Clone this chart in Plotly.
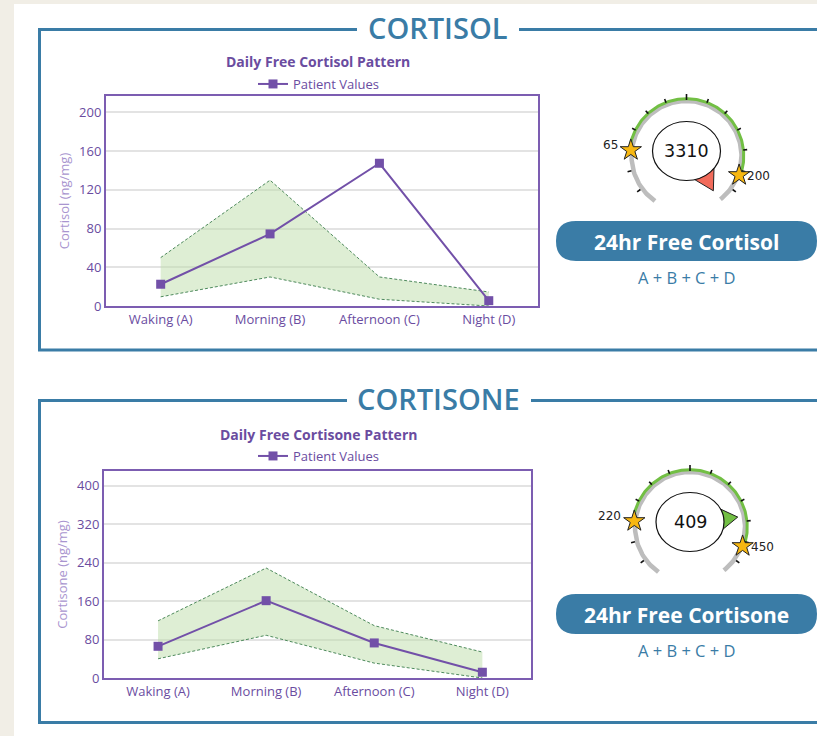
import numpy as np
import plotly.graph_objects as go

W, H = 817, 736

CATEGORIES = ["Waking (A)", "Morning (B)", "Afternoon (C)", "Night (D)"]

CORTISOL_PATIENT = [22.5, 74.5, 147.5, 5.5]
CORTISOL_UPPER = [50, 130, 30, 14.5]
CORTISOL_LOWER = [9.5, 30, 7, 0]
CORTISOL_TICKS = [0, 40, 80, 120, 160, 200]

CORTISONE_PATIENT = [66, 161, 73, 12]
CORTISONE_UPPER = [119, 229, 109, 54]
CORTISONE_LOWER = [40, 89, 31, 0]
CORTISONE_TICKS = [0, 80, 160, 240, 320, 400]

GAUGE_LOW = [65, 220]
GAUGE_HIGH = [200, 450]
GAUGE_VALUE = [3310, 409]

SECTION_TITLES = ["CORTISOL", "CORTISONE"]
CHART_TITLES = ["Daily Free Cortisol Pattern", "Daily Free Cortisone Pattern"]
Y_TITLES = ["Cortisol (ng/mg)", "Cortisone (ng/mg)"]
PILL_LABELS = ["24hr Free Cortisol", "24hr Free Cortisone"]
FORMULA = "A + B + C + D"

BEIGE = "#f1eee6"
BLUE = "#3a7ca6"
PURPLE = "#7250a8"
PURPLE_TXT = "#6a4c9f"
PURPLE_LIGHT = "#a995cf"
GREEN_FILL = "rgba(190, 222, 170, 0.5)"
GREEN_LINE = "#4e8a5c"
GAUGE_GREEN = "#72bf44"
GAUGE_GREY = "#bdbdbd"
STAR = "#f7b711"

A_LOW, A_HIGH = 174.0, -20.0      # angles where the reference range ends sit
ARC_START, ARC_END = 235.0, -52.0


def _px(x, y):
    return x / W, 1 - y / H


def _angle(v, lo, hi):
    f = (np.log(v) - np.log(lo)) / (np.log(hi) - np.log(lo))
    return float(np.clip(A_LOW + f * (A_HIGH - A_LOW), -56, 234))


def _arc(cx, cy, r, a0, a1, n=160):
    t = np.radians(np.linspace(a0, a1, n))
    return cx + r * np.cos(t), cy - r * np.sin(t)


fig = go.Figure()

# ---- frames / page background -------------------------------------------
shapes = [dict(type="rect", xref="x", yref="y", x0=14, x1=W + 5, y0=4, y1=H + 5,
               fillcolor="white", line_width=0, layer="below")]
annotations = []
frames = [(29.5, 350, 357, 519), (400.5, 722.5, 347, 531)]
for i, (top, bottom, gap0, gap1) in enumerate(frames):
    shapes.append(dict(type="path", xref="x", yref="y",
                       path=f"M {gap0},{top} L 39.5,{top} L 39.5,{bottom} L {W + 5},{bottom}",
                       line=dict(color=BLUE, width=3)))
    shapes.append(dict(type="line", xref="x", yref="y", x0=gap1, x1=W + 5,
                       y0=top, y1=top, line=dict(color=BLUE, width=3)))
    annotations.append(dict(xref="x", yref="y", x=438, y=top - 2,
                            text=SECTION_TITLES[i], showarrow=False,
                            font=dict(family="Open Sans", size=29, weight=600,
                                      color=BLUE)))

# ---- pattern charts ------------------------------------------------------
charts = [
    dict(patient=CORTISOL_PATIENT, upper=CORTISOL_UPPER, lower=CORTISOL_LOWER,
         ticks=CORTISOL_TICKS, yrange=[0, 217], box=(106, 538, 96, 306),
         title_y=61, legend_y=84),
    dict(patient=CORTISONE_PATIENT, upper=CORTISONE_UPPER, lower=CORTISONE_LOWER,
         ticks=CORTISONE_TICKS, yrange=[0, 431], box=(104, 531, 471, 678),
         title_y=434, legend_y=456),
]

for i, c in enumerate(charts):
    n = i + 2
    xa, ya = f"x{n}", f"y{n}"
    fig.add_trace(go.Scatter(x=CATEGORIES, y=c["lower"], mode="lines",
                             line=dict(color=GREEN_LINE, width=1, dash="3px,2px"),
                             xaxis=xa, yaxis=ya, showlegend=False, hoverinfo="skip"))
    fig.add_trace(go.Scatter(x=CATEGORIES, y=c["upper"], mode="lines",
                             line=dict(color=GREEN_LINE, width=1, dash="3px,2px"),
                             fill="tonexty", fillcolor=GREEN_FILL,
                             xaxis=xa, yaxis=ya, showlegend=False, hoverinfo="skip"))
    fig.add_trace(go.Scatter(x=CATEGORIES, y=c["patient"], mode="lines+markers",
                             name="Patient Values",
                             line=dict(color=PURPLE, width=2),
                             marker=dict(symbol="square", size=9, color=PURPLE),
                             xaxis=xa, yaxis=ya,
                             legend="legend" if i == 0 else "legend2"))
    x0, x1, y0, y1 = c["box"]
    axis_common = dict(showline=True, mirror=True, linecolor="#7c5db1", linewidth=2,
                       ticks="", tickfont=dict(size=13, color=PURPLE_TXT),
                       fixedrange=True, automargin=False)
    fig.update_layout(**{
        f"xaxis{n}": dict(domain=[x0 / W, x1 / W], anchor=ya, type="category",
                          range=[-0.5, 3.45], showgrid=False, **axis_common),
        f"yaxis{n}": dict(domain=[1 - y1 / H, 1 - y0 / H], anchor=xa,
                          range=c["yrange"], tickvals=c["ticks"],
                          showgrid=True, gridcolor="#e3e3e3", gridwidth=1.5,
                          zeroline=False,
                          title=dict(text=Y_TITLES[i], standoff=7,
                                     font=dict(size=13, color=PURPLE_LIGHT)),
                          **axis_common),
    })
    annotations.append(dict(xref="x", yref="y", x=318, y=c["title_y"],
                            text=f"<b>{CHART_TITLES[i]}</b>", showarrow=False,
                            font=dict(size=14, color=PURPLE_TXT)))
    lx, ly = _px(253, c["legend_y"])
    fig.update_layout(**{("legend" if i == 0 else "legend2"): dict(
        x=lx, y=ly, xanchor="left", yanchor="middle", bgcolor="rgba(0,0,0,0)",
        font=dict(size=13, color=PURPLE_TXT), itemwidth=30)})

# ---- gauges ------------------------------------------------------------------
gauges = [dict(cx=686.5, cy=156, pill=(221, 261)),
          dict(cx=690, cy=527, pill=(594, 634))]
tick_angles = np.arange(216, -37, -21)

for i, g in enumerate(gauges):
    cx, cy = g["cx"], g["cy"]
    lo, hi, val = GAUGE_LOW[i], GAUGE_HIGH[i], GAUGE_VALUE[i]
    ax, ay = _arc(cx, cy, 55, ARC_START, ARC_END)
    fig.add_trace(go.Scatter(x=ax, y=ay, mode="lines",
                             line=dict(color=GAUGE_GREY, width=4.5),
                             showlegend=False, hoverinfo="skip"))
    gx, gy = _arc(cx, cy, 57.3, A_LOW, A_HIGH)
    fig.add_trace(go.Scatter(x=gx, y=gy, mode="lines",
                             line=dict(color=GAUGE_GREEN, width=3),
                             showlegend=False, hoverinfo="skip"))
    tx, ty = [], []
    for a in tick_angles:
        r0, r1 = (56, 62) if a == 90 else (57, 61)
        t = np.radians(a)
        tx += [cx + r0 * np.cos(t), cx + r1 * np.cos(t), None]
        ty += [cy - r0 * np.sin(t), cy - r1 * np.sin(t), None]
    fig.add_trace(go.Scatter(x=tx, y=ty, mode="lines",
                             line=dict(color="#111", width=1.6),
                             showlegend=False, hoverinfo="skip"))

    # reference range stars
    sa = np.radians([_angle(lo, lo, hi), _angle(hi, lo, hi)])
    sx = cx + 56 * np.cos(sa)
    sy = cy - 56 * np.sin(sa)
    fig.add_trace(go.Scatter(x=sx, y=sy, mode="markers",
                             marker=dict(symbol="star", size=16, color=STAR,
                                         line=dict(color="#222", width=1)),
                             showlegend=False, hoverinfo="skip"))
    annotations.append(dict(xref="x", yref="y", x=sx[0] - 11, y=sy[0] - 5,
                            text=str(lo), showarrow=False, xanchor="right",
                            font=dict(family="DejaVu Sans", size=12, color="#222")))
    annotations.append(dict(xref="x", yref="y", x=sx[1] + 6, y=sy[1] + 1,
                            text=str(hi), showarrow=False, xanchor="left",
                            font=dict(family="DejaVu Sans", size=12, color="#222")))

    # value bubble + pointer
    ex, ey, rx, ry = cx, cy - 5, 34, 29.5
    pa = _angle(val, lo, hi)
    over = val > hi or val < lo
    b0, b1, tp = np.radians([pa - 20, pa + 20, pa])
    px_ = [ex + rx * np.cos(b0), ex + 48 * np.cos(tp), ex + rx * np.cos(b1)]
    py_ = [ey - ry * np.sin(b0), ey - 48 * np.sin(tp), ey - ry * np.sin(b1)]
    fig.add_trace(go.Scatter(x=px_ + [px_[0]], y=py_ + [py_[0]], mode="lines",
                             fill="toself",
                             fillcolor="#f26b5b" if over else GAUGE_GREEN,
                             line=dict(color="#222", width=1),
                             showlegend=False, hoverinfo="skip"))
    shapes.append(dict(type="circle", xref="x", yref="y",
                       x0=ex - rx, x1=ex + rx, y0=ey - ry, y1=ey + ry,
                       fillcolor="white", line=dict(color="#111", width=1.2)))
    annotations.append(dict(xref="x", yref="y", x=ex, y=ey, text=str(val),
                            showarrow=False,
                            font=dict(family="DejaVu Sans", size=17.5, color="#111")))

    # pill label
    p0, p1 = g["pill"]
    r = (p1 - p0) / 2
    xl, xr = 556, 817
    shapes.append(dict(type="path", xref="x", yref="y",
                       path=(f"M {xl + r},{p0} L {xr - r},{p0} Q {xr},{p0} {xr},{p0 + r} "
                             f"Q {xr},{p1} {xr - r},{p1} L {xl + r},{p1} "
                             f"Q {xl},{p1} {xl},{p0 + r} Q {xl},{p0} {xl + r},{p0} Z"),
                       fillcolor=BLUE, line_width=0))
    annotations.append(dict(xref="x", yref="y", x=686, y=(p0 + p1) / 2 + 1,
                            text=f"<b>{PILL_LABELS[i]}</b>", showarrow=False,
                            font=dict(family="Open Sans", size=21, color="white")))
    annotations.append(dict(xref="x", yref="y", x=686, y=p1 + 16, text=FORMULA,
                            showarrow=False,
                            font=dict(family="Open Sans", size=16.5, color=BLUE)))

fig.update_layout(
    width=W, height=H,
    margin=dict(l=0, r=0, t=0, b=0, pad=0, autoexpand=False),
    paper_bgcolor=BEIGE, plot_bgcolor="rgba(0,0,0,0)",
    font=dict(family="Open Sans", color=PURPLE_TXT),
    xaxis=dict(domain=[0, 1], range=[0, W], visible=False, fixedrange=True),
    yaxis=dict(domain=[0, 1], range=[H, 0], visible=False, fixedrange=True),
    shapes=shapes, annotations=annotations,
)

# drop the browser's default body margin so the figure sits at the window origin
fig.write_html("out.html", config={"displayModeBar": False},
               post_script="document.body.style.margin='0';")
